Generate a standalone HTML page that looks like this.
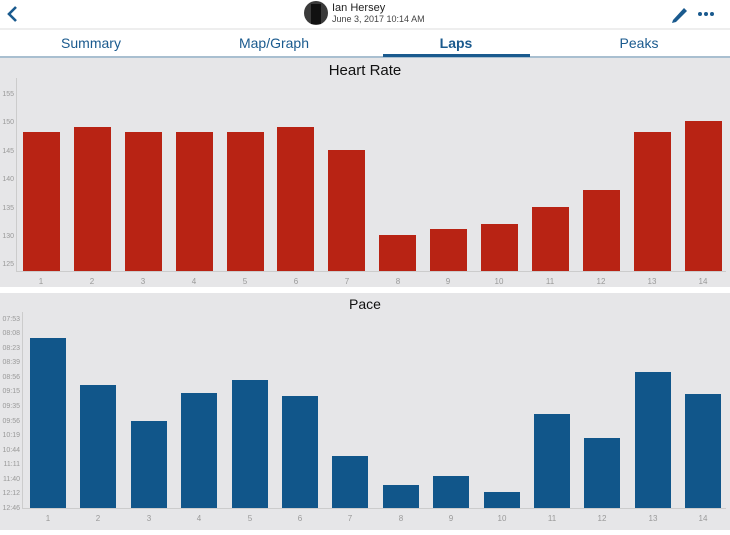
<!DOCTYPE html>
<html><head><meta charset="utf-8"><style>
body{margin:0;width:730px;height:530px;overflow:hidden;background:#fff;font-family:"Liberation Sans",sans-serif}
</style></head><body>
<svg width="730" height="530" xmlns="http://www.w3.org/2000/svg" font-family="Liberation Sans, sans-serif">
<rect width="730" height="530" fill="#fff"/>
<path d="M16 7 L9 14 L16 21" stroke="#1a5a8e" stroke-width="2.6" fill="none"/>
<circle cx="316" cy="13" r="12" fill="#3a3a3a"/>
<rect x="311" y="4" width="10" height="20" fill="#111"/>
<text x="332" y="11" font-size="11" fill="#222">Ian Hersey</text>
<text x="332" y="22" font-size="9" fill="#444">June 3, 2017   10:14 AM</text>
<path d="M673 20 L684 8 L687 11 L676 22 L672 23 Z" fill="#1a5a8e"/>
<circle cx="700" cy="14" r="2" fill="#1a5a8e"/><circle cx="706" cy="14" r="2" fill="#1a5a8e"/><circle cx="712" cy="14" r="2" fill="#1a5a8e"/>
<rect x="0" y="28" width="730" height="2" fill="#eeeeee"/>
<g font-size="14" fill="#1a5a8e" text-anchor="middle">
<text x="91" y="48">Summary</text><text x="274" y="48">Map/Graph</text>
<text x="456" y="48" font-weight="bold">Laps</text><text x="639" y="48">Peaks</text></g>
<rect x="0" y="56" width="730" height="2" fill="#a9bfd0"/>
<rect x="383" y="54" width="147" height="3" fill="#1a5a8e"/>
<rect x="0" y="58" width="730" height="229" fill="#e6e6e8"/>
<rect x="0" y="293" width="730" height="237" fill="#e6e6e8"/>
<text x="365" y="75" font-size="15" text-anchor="middle" fill="#111">Heart Rate</text>
<text x="365" y="309" font-size="14" text-anchor="middle" fill="#111">Pace</text>
<line x1="16.5" y1="78" x2="16.5" y2="272" stroke="#ccc"/>
<line x1="16" y1="271.5" x2="726" y2="271.5" stroke="#ccc"/>
<line x1="22.5" y1="312" x2="22.5" y2="509" stroke="#ccc"/>
<line x1="22" y1="508.5" x2="726" y2="508.5" stroke="#ccc"/>
<g font-size="7" fill="#999" text-anchor="end">
<text x="14" y="96">155</text><text x="14" y="124">150</text><text x="14" y="153">145</text><text x="14" y="181">140</text><text x="14" y="210">135</text><text x="14" y="238">130</text><text x="14" y="266">125</text>
<text x="20" y="321">07:53</text><text x="20" y="335">08:08</text><text x="20" y="350">08:23</text><text x="20" y="364">08:39</text><text x="20" y="379">08:56</text><text x="20" y="393">09:15</text><text x="20" y="408">09:35</text><text x="20" y="423">09:56</text><text x="20" y="437">10:19</text><text x="20" y="452">10:44</text><text x="20" y="466">11:11</text><text x="20" y="481">11:40</text><text x="20" y="495">12:12</text><text x="20" y="510">12:46</text>
</g>
<g fill="#b82314">
<rect x="23" y="132" width="37" height="139"/><rect x="74" y="127" width="37" height="144"/><rect x="125" y="132" width="37" height="139"/><rect x="176" y="132" width="37" height="139"/><rect x="227" y="132" width="37" height="139"/><rect x="277" y="127" width="37" height="144"/><rect x="328" y="150" width="37" height="121"/><rect x="379" y="235" width="37" height="36"/><rect x="430" y="229" width="37" height="42"/><rect x="481" y="224" width="37" height="47"/><rect x="532" y="207" width="37" height="64"/><rect x="583" y="190" width="37" height="81"/><rect x="634" y="132" width="37" height="139"/><rect x="685" y="121" width="37" height="150"/>
</g>
<g fill="#11568a">
<rect x="30" y="338" width="36" height="170"/><rect x="80" y="385" width="36" height="123"/><rect x="131" y="421" width="36" height="87"/><rect x="181" y="393" width="36" height="115"/><rect x="232" y="380" width="36" height="128"/><rect x="282" y="396" width="36" height="112"/><rect x="332" y="456" width="36" height="52"/><rect x="383" y="485" width="36" height="23"/><rect x="433" y="476" width="36" height="32"/><rect x="484" y="492" width="36" height="16"/><rect x="534" y="414" width="36" height="94"/><rect x="584" y="438" width="36" height="70"/><rect x="635" y="372" width="36" height="136"/><rect x="685" y="394" width="36" height="114"/>
</g>
<g font-size="8" fill="#999" text-anchor="middle">
<text x="41" y="284">1</text><text x="92" y="284">2</text><text x="143" y="284">3</text><text x="194" y="284">4</text><text x="245" y="284">5</text><text x="296" y="284">6</text><text x="347" y="284">7</text><text x="398" y="284">8</text><text x="448" y="284">9</text><text x="499" y="284">10</text><text x="550" y="284">11</text><text x="601" y="284">12</text><text x="652" y="284">13</text><text x="703" y="284">14</text>
<text x="48" y="521">1</text><text x="98" y="521">2</text><text x="149" y="521">3</text><text x="199" y="521">4</text><text x="250" y="521">5</text><text x="300" y="521">6</text><text x="350" y="521">7</text><text x="401" y="521">8</text><text x="451" y="521">9</text><text x="502" y="521">10</text><text x="552" y="521">11</text><text x="602" y="521">12</text><text x="653" y="521">13</text><text x="703" y="521">14</text>
</g>
</svg>
</body></html>
